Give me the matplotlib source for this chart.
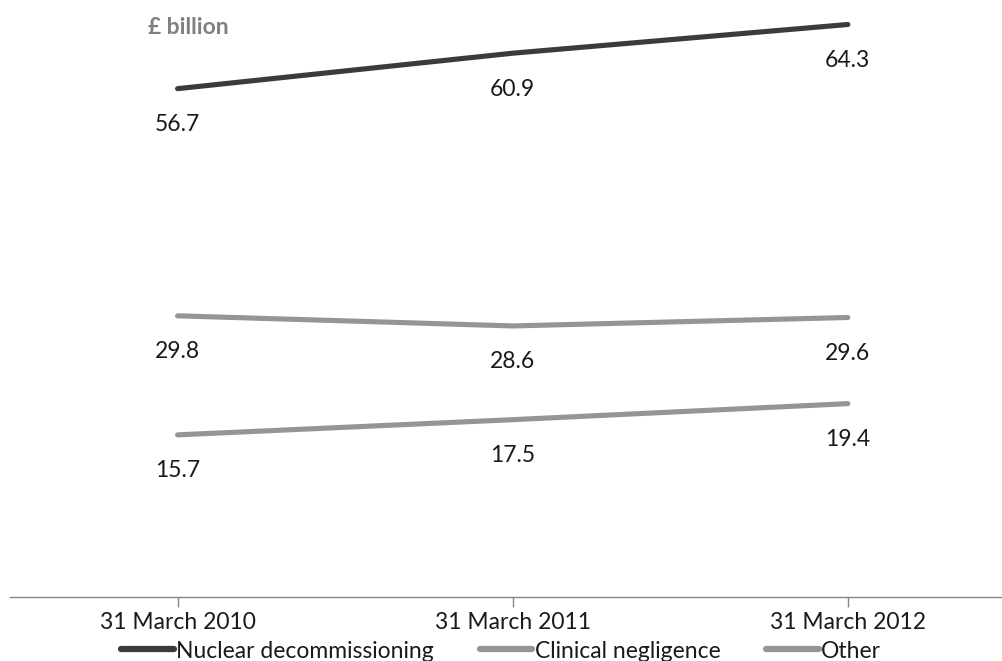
import matplotlib.pyplot as plt

# provisions by type, £ billion
dates = ['31 March 2010', '31 March 2011', '31 March 2012']
nuclear = [56.7, 60.9, 64.3]
clinical = [29.8, 28.6, 29.6]
other = [15.7, 17.5, 19.4]

plt.rcParams['font.family'] = ['Lato', 'DejaVu Sans']
fs = 16.5

fig = plt.figure(figsize=(10.02, 6.61), dpi=100)
ax = fig.add_axes([10/1002, 64/661, 992/1002, 597/661])

x = range(len(dates))
series = [
    (nuclear, 'Nuclear decommissioning', '#3b3b3b'),
    (clinical, 'Clinical negligence', '#959595'),
    (other, 'Other', '#959595'),
]
for vals, name, col in series:
    ax.plot(x, vals, color=col, lw=3.7, solid_capstyle='round', label=name)
    for xi, v in zip(x, vals):
        # value printed under each point
        ax.annotate(f'{v:.1f}', (xi, v), xytext=(0, -36), textcoords='offset pixels',
                    ha='center', va='center', fontsize=fs, color='#1a1a1a')

ax.set_xlim(-0.5, 2.46)
ax.set_ylim(-3.5, 67.2)
ax.set_xticks(list(x))
ax.set_xticklabels(dates, fontsize=fs, color='#1a1a1a')
ax.tick_params(axis='x', length=7, width=1, color='#868686', pad=4)
ax.set_yticks([])
for s in ['top', 'right', 'left']:
    ax.spines[s].set_visible(False)
ax.spines['bottom'].set_color('#868686')
ax.spines['bottom'].set_linewidth(1)

fig.text(148/1002, 1 - 27/661, '£ billion', fontsize=16.5, fontweight='bold',
         color='#808080', va='center', ha='left')

leg = fig.legend(loc='center', bbox_to_anchor=(0.5, 1 - 651/661), ncol=3, frameon=False,
                 fontsize=fs, handlelength=2.3, handletextpad=0.1, columnspacing=2.0)
for t in leg.get_texts():
    t.set_color('#1a1a1a')
for h in leg.legend_handles:
    h.set_linewidth(4.5)

fig.savefig('out.png', dpi=100)
